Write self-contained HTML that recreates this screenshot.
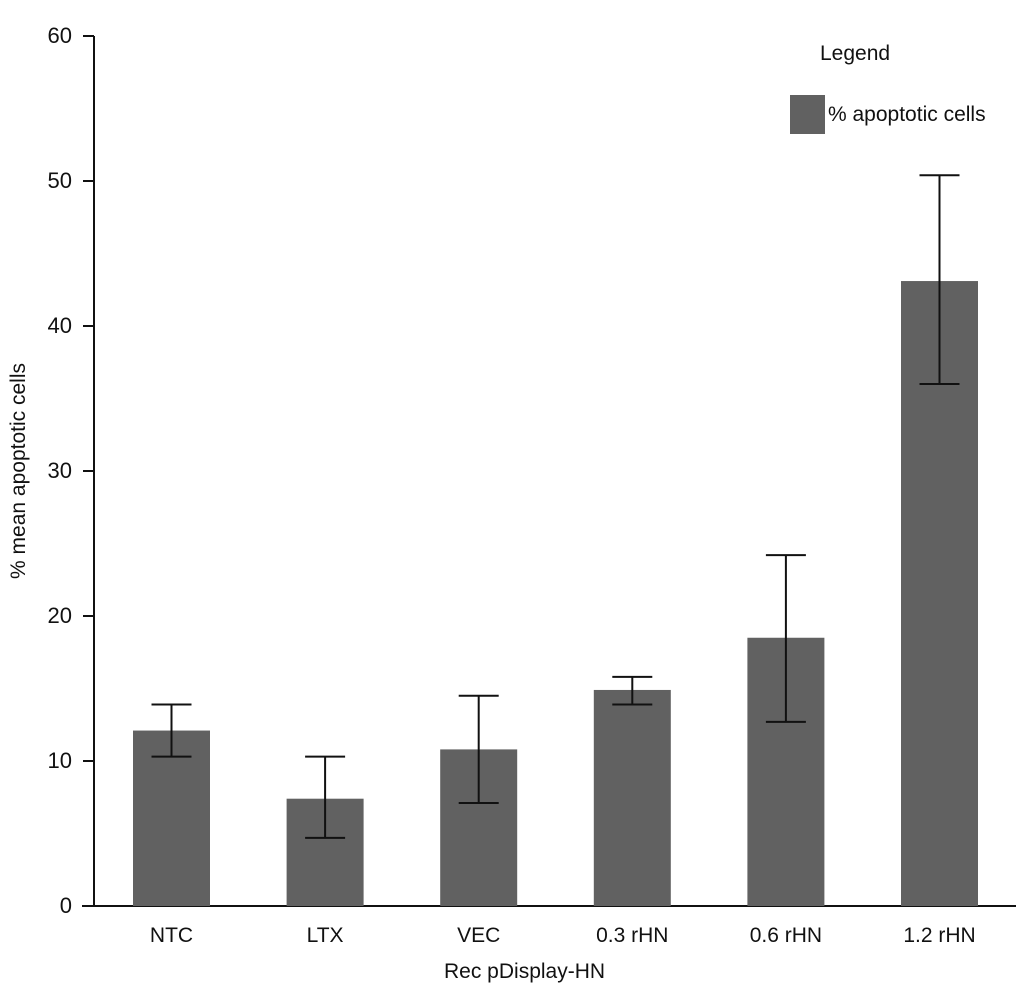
<!DOCTYPE html>
<html><head><meta charset="utf-8"><style>
html,body{margin:0;padding:0;background:#fff;}
svg{display:block;font-family:"Liberation Sans",Arial,sans-serif;}
</style></head><body>
<svg id="chart" width="1034" height="996">
<g id="axes"></g><g id="bars"></g>
<text x="444" y="978" font-size="21" fill="#111">Rec pDisplay-HN</text>
<text transform="translate(25,471) rotate(-90)" text-anchor="middle" font-size="21" fill="#111">% mean apoptotic cells</text>
<g>
<text x="820" y="60" font-size="21" fill="#111">Legend</text>
<rect x="790" y="95" width="35" height="39" fill="#616161"></rect>
<text x="828" y="121" font-size="21" fill="#111">% apoptotic cells</text>
</g>
</svg>
<script>
const categories=["NTC","LTX","VEC","0.3 rHN","0.6 rHN","1.2 rHN"];
const values=[12.1,7.4,10.8,14.9,18.5,43.1];
const errLow=[10.3,4.7,7.1,13.9,12.7,36.0];
const errHigh=[13.9,10.3,14.5,15.8,24.2,50.4];
const yTicks=[0,10,20,30,40,50,60];
const NS="http://www.w3.org/2000/svg";
const y0=906,y1=36,yMax=60,x0=94;
const y=v=>y0-(v/yMax)*(y0-y1);
const xc=i=>171.5+i*153.6;
const bw=77;
function mk(t,a,p){const e=document.createElementNS(NS,t);for(const k in a)e.setAttribute(k,a[k]);p.appendChild(e);return e;}
const ax=document.getElementById('axes'),bars=document.getElementById('bars');
const yl=mk('line',{x1:x0,y1:y1,x2:x0,y2:y0,stroke:'#111','stroke-width':2},ax);


const xl=mk('line',{x1:82,y1:y0,x2:1016,y2:y0,stroke:'#111','stroke-width':2},ax);


yTicks.forEach(v=>{
 const t=mk('line',{x1:x0-11,y1:y(v),x2:x0,y2:y(v),stroke:'#111','stroke-width':2},ax);
 
 
 const l=mk('text',{x:x0-22,y:y(v)+7,'text-anchor':'end','font-size':22,fill:'#111'},ax);
 l.textContent=v;
 
 
});
categories.forEach((c,i)=>{
 const cx=xc(i);
 const r=mk('rect',{x:cx-bw/2,y:y(values[i]),width:bw,height:y0-y(values[i]),fill:'#616161'},bars);
 
 
 const g=mk('g',{stroke:'#111','stroke-width':2},bars);
 
 
 mk('line',{x1:cx,y1:y(errLow[i]),x2:cx,y2:y(errHigh[i])},g);
 mk('line',{x1:cx-20,y1:y(errLow[i]),x2:cx+20,y2:y(errLow[i])},g);
 mk('line',{x1:cx-20,y1:y(errHigh[i]),x2:cx+20,y2:y(errHigh[i])},g);
 const l=mk('text',{x:cx,y:y0+36,'text-anchor':'middle','font-size':21,fill:'#111'},ax);
 l.textContent=c;
 
 
});
</script>
</body></html>
